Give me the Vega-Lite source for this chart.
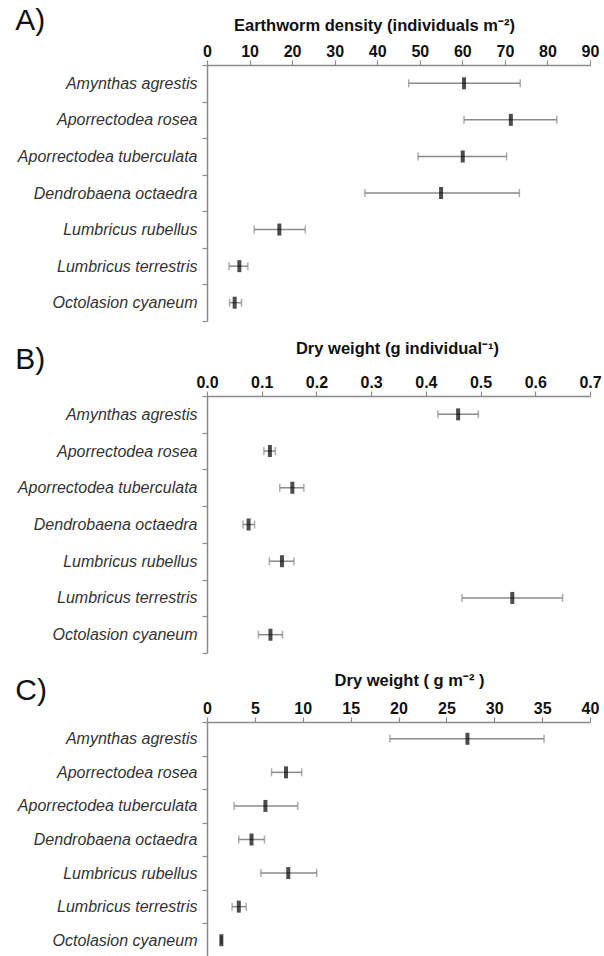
{
  "$schema": "https://vega.github.io/schema/vega-lite/v6.json",
  "padding": {"left": 15, "top": 6, "right": 5, "bottom": 0},
  "spacing": 18,
  "background": "white",
  "config": {
    "font": "Liberation Sans",
    "view": {"stroke": null},
    "axisX": {
      "orient": "top", "grid": false, "domainColor": "#8a8a8a", "domainWidth": 1.5,
      "tickColor": "#8a8a8a", "tickSize": 5, "tickWidth": 1.2,
      "labelFont": "Liberation Sans", "labelFontSize": 16, "labelFontWeight": "bold", "labelColor": "#111",
      "labelPadding": 1, "labelFlush": false,
      "titleFont": "Liberation Sans", "titleFontSize": 16.5, "titleFontWeight": "bold", "titleColor": "#111",
      "titleAlign": "center", "titleBaseline": "middle"
    },
    "axisY": {
      "domainColor": "#8a8a8a", "domainWidth": 1.5, "tickColor": "#8a8a8a", "tickSize": 5, "tickWidth": 1.2,
      "tickBand": "extent", "labelFont": "Liberation Sans", "labelFontSize": 16, "labelFontStyle": "italic",
      "labelColor": "#333", "labelPadding": 5, "title": null
    },
    "title": {"font": "Liberation Sans", "fontSize": 30, "fontWeight": "normal", "color": "#111", "anchor": "start", "frame": "bounds"}
  },
  "datasets": {
    "worms": [
      {"panel": "A", "species": "Amynthas agrestis", "mean": 60.4, "low": 47.4, "high": 73.6},
      {"panel": "A", "species": "Aporrectodea rosea", "mean": 71.4, "low": 60.4, "high": 82.2},
      {"panel": "A", "species": "Aporrectodea tuberculata", "mean": 60.1, "low": 49.6, "high": 70.4},
      {"panel": "A", "species": "Dendrobaena octaedra", "mean": 55.0, "low": 37.1, "high": 73.4},
      {"panel": "A", "species": "Lumbricus rubellus", "mean": 17.0, "low": 11.1, "high": 23.1},
      {"panel": "A", "species": "Lumbricus terrestris", "mean": 7.6, "low": 5.2, "high": 9.6},
      {"panel": "A", "species": "Octolasion cyaneum", "mean": 6.5, "low": 5.3, "high": 8.1},
      {"panel": "B", "species": "Amynthas agrestis", "mean": 0.459, "low": 0.422, "high": 0.496},
      {"panel": "B", "species": "Aporrectodea rosea", "mean": 0.115, "low": 0.104, "high": 0.125},
      {"panel": "B", "species": "Aporrectodea tuberculata", "mean": 0.156, "low": 0.133, "high": 0.177},
      {"panel": "B", "species": "Dendrobaena octaedra", "mean": 0.076, "low": 0.066, "high": 0.087},
      {"panel": "B", "species": "Lumbricus rubellus", "mean": 0.137, "low": 0.114, "high": 0.159},
      {"panel": "B", "species": "Lumbricus terrestris", "mean": 0.558, "low": 0.466, "high": 0.650},
      {"panel": "B", "species": "Octolasion cyaneum", "mean": 0.116, "low": 0.094, "high": 0.138},
      {"panel": "C", "species": "Amynthas agrestis", "mean": 27.2, "low": 19.1, "high": 35.2},
      {"panel": "C", "species": "Aporrectodea rosea", "mean": 8.25, "low": 6.74, "high": 9.89},
      {"panel": "C", "species": "Aporrectodea tuberculata", "mean": 6.1, "low": 2.83, "high": 9.47},
      {"panel": "C", "species": "Dendrobaena octaedra", "mean": 4.65, "low": 3.32, "high": 6.0},
      {"panel": "C", "species": "Lumbricus rubellus", "mean": 8.49, "low": 5.63, "high": 11.46},
      {"panel": "C", "species": "Lumbricus terrestris", "mean": 3.32, "low": 2.62, "high": 4.09},
      {"panel": "C", "species": "Octolasion cyaneum", "mean": 1.5, "low": 1.45, "high": 1.55}
    ]
  },
  "data": {"name": "worms"},
  "vconcat": [
    {
      "title": {"text": "A)", "dx": -2, "dy": 23},
      "width": 383, "height": 256,
      "transform": [{"filter": "datum.panel === 'A'"}],
      "encoding": {
        "y": {"field": "species", "type": "nominal", "sort": null, "scale": {"paddingInner": 0, "paddingOuter": 0}}
      },
      "layer": [
        {"mark": {"type": "rule", "color": "#8a8a8a", "strokeWidth": 1.5},
         "encoding": {"x": {"field": "low", "type": "quantitative", "scale": {"domain": [0, 90]},
           "axis": {"values": [0,10,20,30,40,50,60,70,80,90], "title": "Earthworm density  (individuals m⁻²)", "titleX": 167, "titleY": -40}},
           "x2": {"field": "high"}}},
        {"mark": {"type": "tick", "color": "#8a8a8a", "size": 8, "thickness": 1.5}, "encoding": {"x": {"field": "low", "type": "quantitative"}}},
        {"mark": {"type": "tick", "color": "#8a8a8a", "size": 8, "thickness": 1.5}, "encoding": {"x": {"field": "high", "type": "quantitative"}}},
        {"mark": {"type": "tick", "color": "#000", "size": 12, "thickness": 4}, "encoding": {"x": {"field": "mean", "type": "quantitative"}}}
      ]
    },
    {
      "title": {"text": "B)", "dx": -2, "dy": 39},
      "width": 383, "height": 257,
      "transform": [{"filter": "datum.panel === 'B'"}],
      "encoding": {
        "y": {"field": "species", "type": "nominal", "sort": null, "scale": {"paddingInner": 0, "paddingOuter": 0}}
      },
      "layer": [
        {"mark": {"type": "rule", "color": "#8a8a8a", "strokeWidth": 1.5},
         "encoding": {"x": {"field": "low", "type": "quantitative", "scale": {"domain": [0, 0.7]},
           "axis": {"values": [0,0.1,0.2,0.3,0.4,0.5,0.6,0.7], "format": ".1f", "title": "Dry weight (g individual⁻¹)", "titleX": 190, "titleY": -48}},
           "x2": {"field": "high"}}},
        {"mark": {"type": "tick", "color": "#8a8a8a", "size": 8, "thickness": 1.5}, "encoding": {"x": {"field": "low", "type": "quantitative"}}},
        {"mark": {"type": "tick", "color": "#8a8a8a", "size": 8, "thickness": 1.5}, "encoding": {"x": {"field": "high", "type": "quantitative"}}},
        {"mark": {"type": "tick", "color": "#000", "size": 12, "thickness": 4}, "encoding": {"x": {"field": "mean", "type": "quantitative"}}}
      ]
    },
    {
      "title": {"text": "C)", "dx": -2, "dy": 38},
      "width": 383, "height": 235,
      "transform": [{"filter": "datum.panel === 'C'"}],
      "encoding": {
        "y": {"field": "species", "type": "nominal", "sort": null, "scale": {"paddingInner": 0, "paddingOuter": 0}}
      },
      "layer": [
        {"mark": {"type": "rule", "color": "#8a8a8a", "strokeWidth": 1.5},
         "encoding": {"x": {"field": "low", "type": "quantitative", "scale": {"domain": [0, 40]},
           "axis": {"values": [0,5,10,15,20,25,30,35,40], "title": "Dry weight   ( g m⁻² )", "titleX": 202, "titleY": -42}},
           "x2": {"field": "high"}}},
        {"mark": {"type": "tick", "color": "#8a8a8a", "size": 8, "thickness": 1.5}, "encoding": {"x": {"field": "low", "type": "quantitative"}}},
        {"mark": {"type": "tick", "color": "#8a8a8a", "size": 8, "thickness": 1.5}, "encoding": {"x": {"field": "high", "type": "quantitative"}}},
        {"mark": {"type": "tick", "color": "#000", "size": 12, "thickness": 4}, "encoding": {"x": {"field": "mean", "type": "quantitative"}}}
      ]
    }
  ]
}
